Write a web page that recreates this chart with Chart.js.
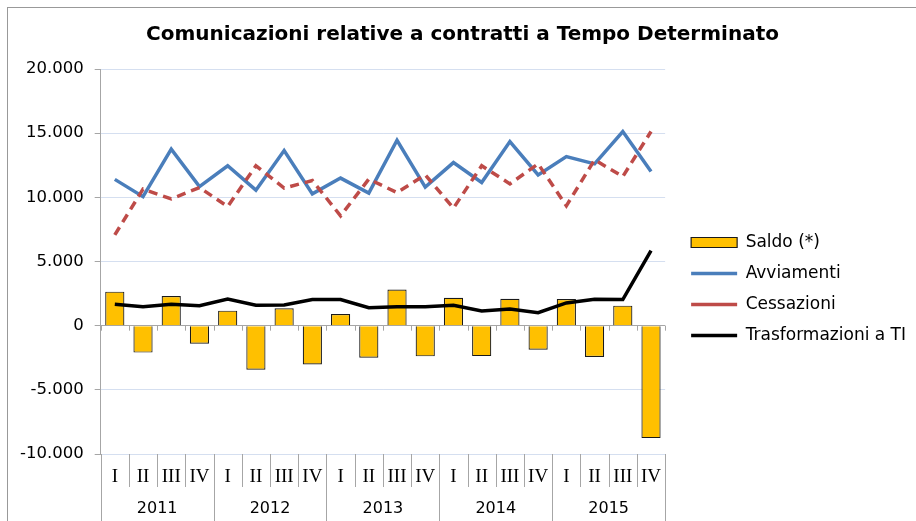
<!DOCTYPE html>
<html>
<head>
<meta charset="utf-8">
<script src="https://cdn.jsdelivr.net/npm/chart.js@4.4.1/dist/chart.umd.min.js"></script>
<style>
  html, body { margin: 0; padding: 0; background: #fff; overflow: hidden; }
  #frame { position: absolute; left: 7px; top: 7px; width: 1000px; height: 1000px;
           border-left: 1px solid #999; border-top: 1px solid #999; }
  #wrap { position: absolute; left: 0; top: 0; width: 916px; height: 521px; }
</style>
</head>
<body>
<div id="frame"></div>
<div id="wrap"><canvas id="myChart" width="916" height="521"></canvas></div>
<script>
// ----------------------- dati ----------------------------
var quarters = ['I','II','III','IV','I','II','III','IV','I','II','III','IV','I','II','III','IV','I','II','III','IV'];
var years = ['2011', '2012', '2013', '2014', '2015'];

var saldo = [2650, -2100, 2310, -1400, 1170, -3430, 1350, -3020, 910, -2500,
             2810, -2390, 2180, -2370, 2100, -1870, 2080, -2440, 1560, -8760];
var avviamenti = [11400, 10050, 13760, 10840, 12460, 10560, 13650, 10270, 11500, 10330,
                  14450, 10800, 12710, 11160, 14350, 11750, 13180, 12610, 15130, 12010];
var cessazioni = [7070, 10640, 9880, 10760, 9280, 12460, 10720, 11310, 8560, 11420,
                  10370, 11750, 9160, 12460, 11050, 12610, 9340, 12920, 11620, 15130];
var trasformazioni = [1660, 1480, 1660, 1560, 2080, 1590, 1610, 2030, 2030, 1400,
                      1480, 1480, 1590, 1140, 1300, 1010, 1770, 2050, 2030, 5850];

var yTicks = [-10000, -5000, 0, 5000, 10000, 15000, 20000];

var axisGrey = '#a6a6a6';
var gridBlue = '#d5dff0';

// ----------------------- etichette asse x a due livelli ----------------------------
var multiAxis = {
	id: 'multiAxis',
	afterDraw: function(chart){
		var ctx = chart.ctx;
		var xs = chart.scales.x;
		var ys = chart.scales.y;
		var top = chart.chartArea.bottom;
		var zeroY = ys.getPixelForValue(0);
		var n = quarters.length;
		var half = (xs.getPixelForValue(1) - xs.getPixelForValue(0)) / 2;

		ctx.save();
		ctx.strokeStyle = axisGrey;
		ctx.lineWidth = 1;
		for (var i = 0; i <= n; i++) {
			var edge = i < n ? xs.getPixelForValue(i) - half : xs.getPixelForValue(n - 1) + half;
			edge = Math.round(edge) + 0.5;
			ctx.beginPath();
			ctx.moveTo(edge, zeroY);
			ctx.lineTo(edge, zeroY + 5);
			var bottom = (i % 4 === 0 || i === n) ? chart.height : top + 33;
			ctx.moveTo(edge, top);
			ctx.lineTo(edge, bottom);
			ctx.stroke();
		}

		ctx.fillStyle = '#000';
		ctx.textAlign = 'center';
		ctx.textBaseline = 'middle';
		ctx.font = '19px "Liberation Serif"';
		for (var q = 0; q < n; q++) {
			ctx.fillText(quarters[q], xs.getPixelForValue(q), top + 23);
		}
		ctx.font = '16px "DejaVu Sans"';
		for (var y = 0; y < years.length; y++) {
			var cx = (xs.getPixelForValue(y * 4) + xs.getPixelForValue(y * 4 + 3)) / 2;
			ctx.fillText(years[y], cx, top + 55);
		}
		ctx.restore();
	}
};

// ----------------------- grafico ----------------------------
var legendStyle = ['rect', 'line', 'line', 'line'];

var myChart = document.getElementById('myChart').getContext('2d');
var myChart = new Chart(myChart, {
	type : 'bar',
	data : {
		labels : quarters,
		datasets : [ {
			type : 'bar',
			label : 'Saldo (*)',
			data : saldo,
			yAxisID : 'y',
			backgroundColor : '#ffc000',
			borderColor : '#1a1a1a',
			borderWidth : 1.2,
			barPercentage : 0.68,
			categoryPercentage : 1,
			order : 4
		}, {
			type : 'line',
			label : 'Avviamenti',
			data : avviamenti,
			yAxisID : 'y',
			borderColor : '#4a7ebb',
			backgroundColor : '#4a7ebb',
			borderWidth : 3.5,
			pointRadius : 0,
			tension : 0,
			order : 3
		}, {
			type : 'line',
			label : 'Cessazioni',
			data : cessazioni,
			yAxisID : 'y',
			borderColor : '#be4b48',
			backgroundColor : '#be4b48',
			borderWidth : 3.5,
			borderDash : [9, 6],
			pointRadius : 0,
			tension : 0,
			order : 2
		}, {
			type : 'line',
			label : 'Trasformazioni a TI',
			data : trasformazioni,
			yAxisID : 'y',
			borderColor : '#000000',
			backgroundColor : '#000000',
			borderWidth : 3.5,
			pointRadius : 0,
			tension : 0,
			order : 1
		} ]
	},
	options : {
		responsive : false,
		animation : false,
		layout : { padding : { left : 9, right : 0, top : 0, bottom : 67 } },
		scales : {
			x : { display : false },
			y : {
				min : -10000,
				max : 20000,
				afterBuildTicks : function(scale){
					scale.ticks = yTicks.map(function(v){ return { value : v }; });
				},
				ticks : {
					color : '#000',
					padding : 11,
					font : { family : 'DejaVu Sans', size : 16.5 },
					callback : function(v){ return v.toLocaleString('it-IT'); }
				},
				grid : {
					color : function(c){ return c.tick && c.tick.value === 0 ? axisGrey : gridBlue; },
					tickColor : axisGrey,
					tickLength : 6,
					lineWidth : 1
				},
				border : { display : true, color : axisGrey, width : 1 }
			},
			gap : {
				type : 'linear',
				axis : 'y',
				position : 'right',
				display : true,
				ticks : { display : false },
				grid : { display : false, drawTicks : false },
				border : { display : false },
				afterFit : function(scale){ scale.width = 12; }
			}
		},
		plugins : {
			title : {
				display : true,
				text : 'Comunicazioni relative a contratti a Tempo Determinato',
				color : '#000',
				font : { family : 'DejaVu Sans', size : 20, weight : 'bold' },
				padding : { top : 23, bottom : 22 }
			},
			legend : {
				position : 'right',
				maxWidth : 300,
				title : {
					display : true,
					text : '',
					font : { size : 10, lineHeight : 1 },
					padding : { top : 57, bottom : 57 }
				},
				labels : {
					color : '#000',
					font : { family : 'DejaVu Sans', size : 17 },
					usePointStyle : true,
					pointStyleWidth : 46,
					boxHeight : 10,
					padding : 14,
					sort : function(a, b){ return a.datasetIndex - b.datasetIndex; },
					generateLabels : function(chart){
						var items = Chart.defaults.plugins.legend.labels.generateLabels(chart);
						items.forEach(function(it){ it.pointStyle = legendStyle[it.datasetIndex]; });
						return items;
					}
				}
			},
			tooltip : { enabled : false }
		}
	},
	plugins : [ multiAxis ]
});
</script>
</body>
</html>
